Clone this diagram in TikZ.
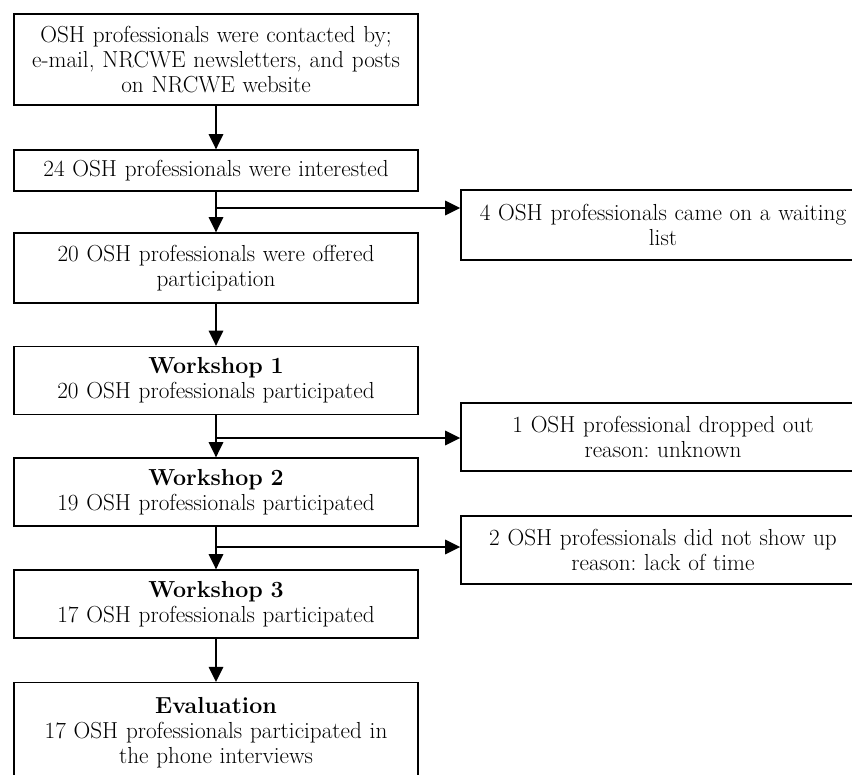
\documentclass[tikz,border=0pt]{standalone}
\usetikzlibrary{arrows.meta}
\usetikzlibrary{calc}

\tikzset{
  stagebox/.style={draw, line width=0.9pt, minimum width=10.1cm, text width=9.9cm,
    align=center, inner sep=2pt, font=\fontsize{16.5}{17.6}\selectfont\frenchspacing},
  flow/.style={line width=1.4pt, -{Triangle[length=0.38cm,width=0.36cm]}}
}

\begin{document}
\begin{tikzpicture}[x=0.025cm,y=-0.025cm]
            \useasboundingbox (0,0) rectangle (852,774);
            \clip (0,0) rectangle (852,774);

            \node[stagebox, minimum height=2.275cm] (contact) at (216,59.5) {OSH professionals were contacted by;\\ e-mail, NRCWE newsletters, and posts\\ on NRCWE website};
            \node[stagebox, minimum height=1.025cm] (interest) at (216,170.5) {24 OSH professionals were interested};
            \node[stagebox, minimum height=1.75cm] (offer) at (216,268) {20 OSH professionals were offered\\ participation};
            \node[stagebox, minimum height=1.7cm] (ws1) at (216,380.5) {\textbf{Workshop 1}\\ 20 OSH professionals participated};
            \node[stagebox, minimum height=1.7cm] (ws2) at (216,492) {\textbf{Workshop 2}\\ 19 OSH professionals participated};
            \node[stagebox, minimum height=1.7cm] (ws3) at (216,604) {\textbf{Workshop 3}\\ 17 OSH professionals participated};
            \node[stagebox, minimum height=2.5cm, anchor=north] (eval) at (216,682) {\textbf{Evaluation}\\ 17 OSH professionals participated in\\ the phone interviews\\[1.2em]};

            \node[stagebox, minimum height=1.75cm] (wait) at (663,225) {4 OSH professionals came on a waiting\\ list};
            \node[stagebox, minimum height=1.7cm] (drop) at (663,437) {1 OSH professional dropped out\\ reason: unknown};
            \node[stagebox, minimum height=1.7cm] (noshow) at (663,550) {2 OSH professionals did not show up\\ reason: lack of time};

            \coordinate (split1) at (217,208);
            \coordinate (split2) at (217,438);
            \coordinate (split3) at (217,547);

            \draw[flow] (contact) to (interest);
            \draw[flow] (interest) to (offer);
            \draw[flow] (offer) to (ws1);
            \draw[flow] (ws1) to (ws2);
            \draw[flow] (ws2) to (ws3);
            \draw[flow] (ws3) to (eval);

            \draw[flow] (split1) to (split1 -| wait.west);
            \draw[flow] (split2) to (split2 -| drop.west);
            \draw[flow] (split3) to (split3 -| noshow.west);
        \end{tikzpicture}
\end{document}
